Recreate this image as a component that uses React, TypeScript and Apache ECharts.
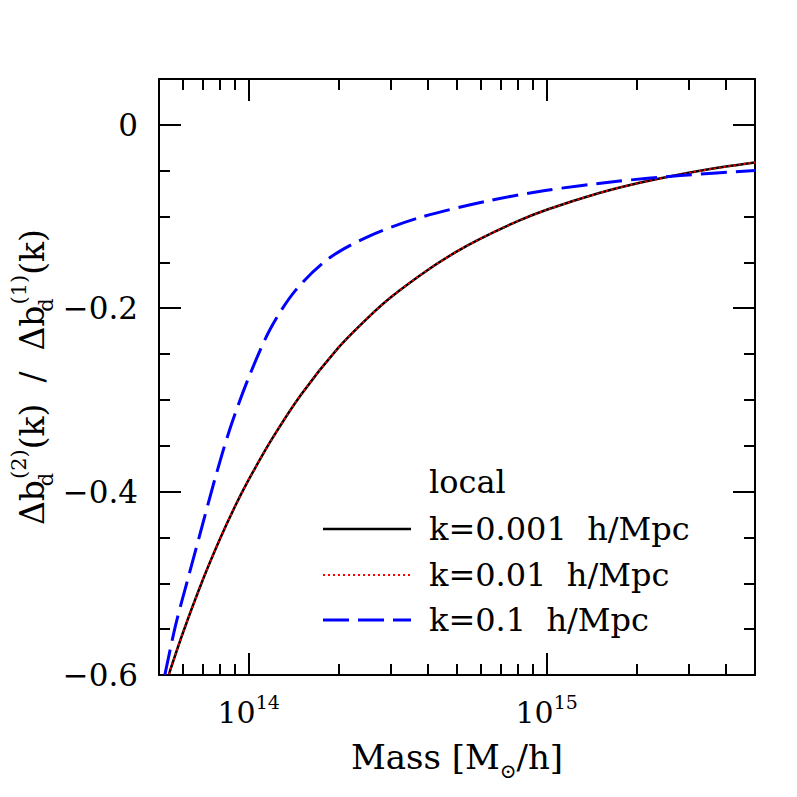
import React, { useEffect, useRef } from "react";
import * as echarts from "echarts";

// ---- data ----
const massK0001 = [5.4e13, 6e13, 7e13, 8e13, 9e13, 1e14, 1.2e14, 1.5e14, 2e14, 2.5e14, 3e14, 4e14, 5e14, 6e14, 8e14, 1e15, 1.5e15, 2e15, 3e15, 4e15, 5e15];
const ratioK0001 = [-0.599, -0.555, -0.497, -0.452, -0.416, -0.387, -0.342, -0.294, -0.243, -0.211, -0.188, -0.158, -0.138, -0.124, -0.105, -0.0926, -0.0744, -0.064, -0.0523, -0.0455, -0.041];

const massK001 = [5.4e13, 6e13, 7e13, 8e13, 9e13, 1e14, 1.2e14, 1.5e14, 2e14, 2.5e14, 3e14, 4e14, 5e14, 6e14, 8e14, 1e15, 1.5e15, 2e15, 3e15, 4e15, 5e15];
const ratioK001 = [-0.599, -0.555, -0.497, -0.452, -0.416, -0.387, -0.342, -0.294, -0.243, -0.211, -0.188, -0.158, -0.138, -0.124, -0.105, -0.0926, -0.0744, -0.064, -0.0523, -0.0455, -0.041];

const massK01 = [5.23e13, 5.69e13, 6.24e13, 6.9e13, 7.69e13, 8.64e13, 9.93e13, 1.18e14, 1.44e14, 1.87e14, 2.55e14, 3.76e14, 6.21e14, 9.88e14, 1.7e15, 2.81e15, 5e15];
const ratioK01 = [-0.6, -0.545, -0.496, -0.4435, -0.387, -0.332, -0.278, -0.223, -0.18, -0.145, -0.121, -0.101, -0.0836, -0.0716, -0.0618, -0.0553, -0.0498];

const xMajorTicks = [1e14, 1e15];
const xMinorTicks = [6e13, 7e13, 8e13, 9e13, 2e14, 3e14, 4e14, 5e14, 6e14, 7e14, 8e14, 9e14, 2e15, 3e15, 4e15];
const yMajorTicks = [-0.6, -0.4, -0.2, 0];
const yMinorTicks = [-0.55, -0.5, -0.45, -0.35, -0.3, -0.25, -0.15, -0.1, -0.05];

const legendTitle = "local";
const seriesNames = ["k=0.001  h/Mpc", "k=0.01  h/Mpc", "k=0.1  h/Mpc"];

const X_MIN = 5e13;
const X_MAX = 5e15;
const Y_MIN = -0.6;
const Y_MAX = 0.05;

const FONT = "DejaVu Serif";

export default function App() {
  const ref = useRef<HTMLDivElement>(null);

  useEffect(() => {
    if (!ref.current) return;
    const chart = echarts.init(ref.current, null, { renderer: "svg" });

    const lx = (v: number) => Math.log10(v);
    const tickLine = { color: "#000", width: 2 };
    const frameLine = { color: "#000", width: 2 };

    const xAxisBase = (position: "bottom" | "top", major: boolean, showLine: boolean, showLabel: boolean) => ({
      type: "value",
      gridIndex: 0,
      position,
      min: lx(X_MIN),
      max: lx(X_MAX),
      axisLine: { show: showLine, onZero: false, lineStyle: frameLine },
      axisTick: {
        show: true,
        inside: true,
        length: major ? 22 : 11,
        lineStyle: tickLine,
        customValues: (major ? xMajorTicks : xMinorTicks).map(lx),
      },
      axisLabel: showLabel
        ? {
            show: true,
            customValues: xMajorTicks.map(lx),
            margin: 17,
            formatter: (v: number) => `{b|10}{s|${Math.round(v)}}`,
            rich: {
              b: { fontFamily: FONT, fontSize: 30, color: "#000", lineHeight: 40 },
              s: { fontFamily: FONT, fontSize: 19, color: "#000", lineHeight: 22, verticalAlign: "top" },
            },
          }
        : { show: false },
      splitLine: { show: false },
      minorTick: { show: false },
    });

    const yAxisBase = (position: "left" | "right", major: boolean, showLine: boolean, showLabel: boolean) => ({
      type: "value",
      gridIndex: 0,
      position,
      min: Y_MIN,
      max: Y_MAX,
      axisLine: { show: showLine, onZero: false, lineStyle: frameLine },
      axisTick: {
        show: true,
        inside: true,
        length: major ? 22 : 11,
        lineStyle: tickLine,
        customValues: major ? yMajorTicks : yMinorTicks,
      },
      axisLabel: showLabel
        ? {
            show: true,
            customValues: yMajorTicks,
            margin: 21,
            fontFamily: FONT,
            fontSize: 31,
            color: "#000",
            formatter: (v: number) => (Math.abs(v) < 1e-9 ? "0" : (v < 0 ? "\u2212" : "") + Math.abs(v).toFixed(1)),
          }
        : { show: false },
      splitLine: { show: false },
      minorTick: { show: false },
    });

    const toData = (m: number[], r: number[]) => m.map((v, i) => [lx(v), r[i]]);

    const legendRows = [529, 575, 620];

    const option: any = {
      animation: false,
      backgroundColor: "#fff",
      grid: { left: 159, top: 79, right: 42, bottom: 122, containLabel: false, outerBoundsMode: "none" },
      xAxis: [
        xAxisBase("bottom", true, true, true),
        xAxisBase("bottom", false, false, false),
        xAxisBase("top", true, true, false),
        xAxisBase("top", false, false, false),
      ],
      yAxis: [
        yAxisBase("left", true, true, true),
        yAxisBase("left", false, false, false),
        yAxisBase("right", true, true, false),
        yAxisBase("right", false, false, false),
      ],
      series: [
        {
          name: seriesNames[0],
          type: "line",
          xAxisIndex: 0,
          yAxisIndex: 0,
          data: toData(massK0001, ratioK0001),
          showSymbol: false,
          smooth: 0.3,
          lineStyle: { color: "#000", width: 2.5, type: "solid" },
          z: 2,
        },
        {
          name: seriesNames[1],
          type: "line",
          xAxisIndex: 0,
          yAxisIndex: 0,
          data: toData(massK001, ratioK001),
          showSymbol: false,
          smooth: 0.3,
          lineStyle: { color: "#ff0000", width: 2, type: [2, 3] },
          z: 3,
        },
        {
          name: seriesNames[2],
          type: "line",
          xAxisIndex: 0,
          yAxisIndex: 0,
          data: toData(massK01, ratioK01),
          showSymbol: false,
          smooth: 0.3,
          lineStyle: { color: "#0000ff", width: 3, type: [26, 9] },
          z: 4,
        },
      ],
      graphic: [
        {
          type: "text",
          x: 429,
          y: 482,
          style: { text: legendTitle, fontFamily: FONT, fontSize: 32, fill: "#000", verticalAlign: "middle" },
        },
        {
          type: "line",
          shape: { x1: 323, y1: legendRows[0], x2: 411, y2: legendRows[0] },
          style: { stroke: "#000", lineWidth: 2.5 },
        },
        {
          type: "line",
          shape: { x1: 323, y1: legendRows[1], x2: 411, y2: legendRows[1] },
          style: { stroke: "#ff0000", lineWidth: 2, lineDash: [2, 3] },
        },
        {
          type: "line",
          shape: { x1: 323, y1: legendRows[2], x2: 411, y2: legendRows[2] },
          style: { stroke: "#0000ff", lineWidth: 3, lineDash: [26, 9] },
        },
        ...seriesNames.map((n, i) => ({
          type: "text",
          x: 429,
          y: legendRows[i],
          style: { text: n, fontFamily: FONT, fontSize: 32, fill: "#000", verticalAlign: "middle" },
        })),
        {
          type: "text",
          x: 457,
          y: 757,
          style: {
            text: "{b|Mass [M}{s|\u2299}{b|/h]}",
            align: "center",
            verticalAlign: "middle",
            rich: {
              b: { fontFamily: FONT, fontSize: 34, fill: "#000", lineHeight: 48 },
              s: { fontFamily: FONT, fontSize: 20, fill: "#000", lineHeight: 20, verticalAlign: "bottom" },
            },
          },
        },
        {
          type: "text",
          x: 32,
          y: 377,
          rotation: Math.PI / 2,
          style: {
            text: "{b|\u0394b}{d|d}{s|(2)}{b|(k)  /  \u0394b}{d|d}{s|(1)}{b|(k)}",
            align: "center",
            verticalAlign: "middle",
            rich: {
              b: { fontFamily: FONT, fontSize: 33, fill: "#000", lineHeight: 48 },
              s: { fontFamily: FONT, fontSize: 21, fill: "#000", lineHeight: 21, verticalAlign: "top" },
              d: { fontFamily: FONT, fontSize: 21, fill: "#000", lineHeight: 21, verticalAlign: "bottom", width: 1 },
            },
          },
        },
      ],
    };

    chart.setOption(option);
    return () => chart.dispose();
  }, []);

  return (
    <div
      ref={ref}
      style={{ position: "fixed", left: 0, top: 0, width: 797, height: 797, background: "#fff" }}
    />
  );
}
